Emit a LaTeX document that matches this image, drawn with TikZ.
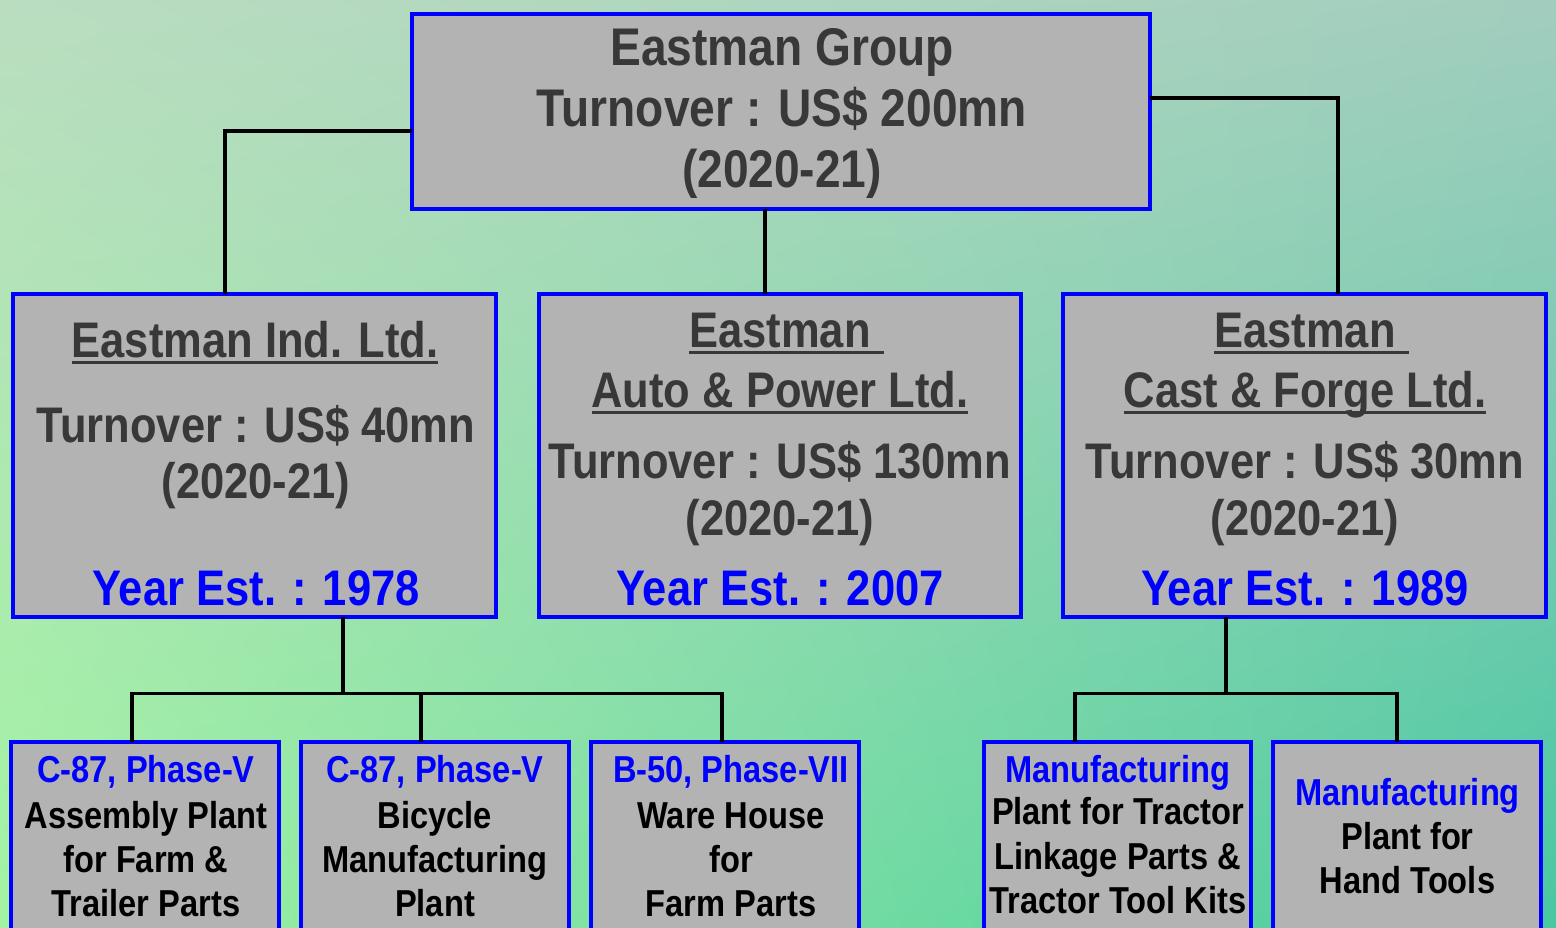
\documentclass[tikz,border=0pt]{standalone}
\usepackage{fontspec}
\usetikzlibrary{shadings}
\newfontfamily\cf{Liberation Sans}[FakeStretch=0.87]
\definecolor{boxfill}{HTML}{B3B3B3}
\definecolor{boxline}{HTML}{0000FF}
\definecolor{dtext}{HTML}{383838}
\definecolor{btext}{HTML}{0000FF}
\definecolor{bgul}{HTML}{BADDC0}
\definecolor{bgur}{HTML}{A2CDBE}
\definecolor{bgll}{HTML}{A2F4A2}
\definecolor{bglr}{HTML}{48C8A2}
\newlength\ulw
\newcommand\myul[2][0pt]{\settowidth\ulw{#2}\addtolength\ulw{#1}\rlap{\rule[-6.5pt]{\ulw}{2.5pt}}#2}
\tikzset{
  box/.style={draw=boxline, line width=4pt, fill=boxfill, rectangle, inner sep=0pt, outer sep=0pt},
  link/.style={draw=black, line width=3.8pt},
  big/.style={anchor=base, inner sep=0pt, text=dtext, font=\cf\bfseries\fontsize{53}{60}\selectfont},
  mid/.style={anchor=base, inner sep=0pt, text=dtext, font=\cf\bfseries\fontsize{50}{56}\selectfont},
  midblue/.style={mid, text=btext},
  small/.style={anchor=base, inner sep=0pt, text=black, font=\cf\bfseries\fontsize{37.5}{44}\selectfont},
  smallblue/.style={small, text=btext}
}
\begin{document}
\begin{tikzpicture}[x=1pt,y=-1pt]
\clip (0,0) rectangle (1556,927);
\shade[upper left=bgul, upper right=bgur, lower left=bgll, lower right=bglr] (0,0) rectangle (1556,927);

% boxes
\node[box, minimum width=738pt, minimum height=195pt] (top) at (781,111.5) {};
\node[box, minimum width=483pt, minimum height=323pt] (ind) at (254.5,455.5) {};
\node[box, minimum width=482pt, minimum height=323pt] (auto) at (780,455.5) {};
\node[box, minimum width=483pt, minimum height=323pt] (cast) at (1304.5,455.5) {};
\node[box, minimum width=268pt, minimum height=257pt] (p1) at (145,870) {};
\node[box, minimum width=268pt, minimum height=257pt] (p2) at (435,870) {};
\node[box, minimum width=268pt, minimum height=257pt] (p3) at (725,870) {};
\node[box, minimum width=267pt, minimum height=257pt] (p4) at (1117.5,870) {};
\node[box, minimum width=268pt, minimum height=257pt] (p5) at (1407,870) {};

% connectors
\draw[link] (top.west) ++(0,19.5) -| ([xshift=-29.5pt]ind.north);
\draw[link] (top.south -| 765,0) -- (auto.north -| 765,0);
\draw[link] (top.east) ++(0,-13.5) -| ([xshift=33.5pt]cast.north);
\draw[link] (ind.south -| 343,0) -- (343,692);
\draw[link] (p1.north -| 132,0) -- ++(0,-48) -| (p3.north -| 722,0);
\draw[link] (p2.north -| 421,0) -- ++(0,-48);
\draw[link] (cast.south -| 1226,0) -- (1226,692);
\draw[link] (p4.north -| 1075,0) -- ++(0,-48) -| (p5.north -| 1397,0);

% top text
\node[big] (t1) at (782,65) {Eastman Group};
\node[big] (t2) at (782,126) {Turnover : US\$ 200mn};
\node[big] (t3) at (782,187) {(2020-21)};

% left L1
\node[mid] (i1) at (255,357) {\myul{Eastman Ind. Ltd.}};
\node[mid] (i2) at (256,442) {Turnover : US\$ 40mn};
\node[mid] (i3) at (256,498) {(2020-21)};
\node[midblue] (i4) at (256,605) {Year Est. : 1978};

% middle L1
\node[mid] (a1) at (780,347) {\myul[13pt]{Eastman}};
\node[mid] (a2) at (780,407) {\myul{Auto \& Power Ltd.}};
\node[mid] (a3) at (780,478) {Turnover : US\$ 130mn};
\node[mid] (a4) at (780,535) {(2020-21)};
\node[midblue] (a5) at (780,605) {Year Est. : 2007};

% right L1
\node[mid] (c1) at (1305,347) {\myul[13pt]{Eastman}};
\node[mid] (c2) at (1305,407) {\myul{Cast \& Forge Ltd.}};
\node[mid] (c3) at (1305,478) {Turnover : US\$ 30mn};
\node[mid] (c4) at (1305,535) {(2020-21)};
\node[midblue] (c5) at (1305,605) {Year Est. : 1989};

% bottom boxes
\node[smallblue] (q11) at (146,782) {C-87, Phase-V};
\node[small] (q12) at (146,828) {Assembly Plant};
\node[small] (q13) at (146,872) {for Farm \&};
\node[small] (q14) at (146,916) {Trailer Parts};

\node[smallblue] (q21) at (435,782) {C-87, Phase-V};
\node[small] (q22) at (435,828) {Bicycle};
\node[small] (q23) at (435,872) {Manufacturing};
\node[small] (q24) at (435,916) {Plant};

\node[smallblue] (q31) at (731,782) {B-50, Phase-VII};
\node[small] (q32) at (731,828) {Ware House};
\node[small] (q33) at (731,872) {for};
\node[small] (q34) at (731,916) {Farm Parts};

\node[smallblue] (q41) at (1118,782) {Manufacturing};
\node[small] (q42) at (1118,824) {Plant for Tractor};
\node[small] (q43) at (1118,869) {Linkage Parts \&};
\node[small] (q44) at (1118,913) {Tractor Tool Kits};

\node[smallblue] (q51) at (1407.5,805) {Manufacturing};
\node[small] (q52) at (1407.5,849) {Plant for};
\node[small] (q53) at (1407.5,893) {Hand Tools};
\end{tikzpicture}
\end{document}
